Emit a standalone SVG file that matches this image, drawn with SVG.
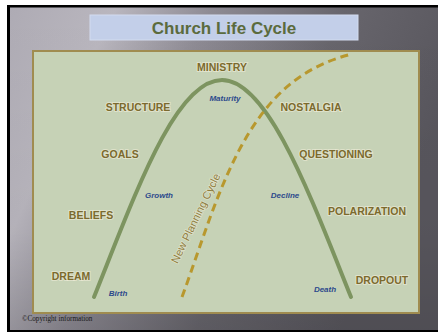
<svg xmlns="http://www.w3.org/2000/svg" width="438" height="333" viewBox="0 0 438 333">
  <defs>
    <linearGradient id="bg" x1="0" y1="0" x2="1" y2="0.35">
      <stop offset="0" stop-color="#aeabb4"/>
      <stop offset="0.22" stop-color="#b9b6be"/>
      <stop offset="0.42" stop-color="#8e8b94"/>
      <stop offset="0.7" stop-color="#67656c"/>
      <stop offset="1" stop-color="#58565d"/>
    </linearGradient>
    <linearGradient id="shade" x1="0" y1="0" x2="0" y2="1">
      <stop offset="0" stop-color="#000" stop-opacity="0"/>
      <stop offset="0.7" stop-color="#000" stop-opacity="0.03"/>
      <stop offset="1" stop-color="#000" stop-opacity="0.1"/>
    </linearGradient>
    <style>
      .lbl { font-family: "Liberation Sans", Arial, sans-serif; font-weight: bold; font-size: 10.5px; fill: #7b6a2e; stroke: #f4f0dc; stroke-width: 2; stroke-opacity: 0.55; paint-order: stroke; text-anchor: middle; }
      .stage { font-family: "Liberation Sans", Arial, sans-serif; font-weight: bold; font-style: italic; font-size: 8px; fill: #2d4a8c; text-anchor: middle; }
    </style>
  </defs>
  <rect x="0" y="0" width="438" height="333" fill="#ffffff"/>
  <rect x="7" y="5" width="431" height="327" fill="#000000"/>
  <rect x="10" y="7.5" width="428" height="322.5" fill="url(#bg)"/>
  <rect x="10" y="7.5" width="428" height="322.5" fill="url(#shade)"/>

  <g id="title">
    <rect x="90" y="15" width="268" height="25" fill="#c3cfe9" stroke="#d3dcef" stroke-width="1"/>
    <text x="224" y="34" font-family="Liberation Sans, Arial, sans-serif" font-weight="bold" font-size="17px" fill="#5b6b3d" text-anchor="middle">Church Life Cycle</text>
  </g>

  <g id="panel">
    <rect x="33" y="51" width="386" height="262" fill="#c6d2b6" stroke="#a08c50" stroke-width="2"/>
  </g>

  <g id="connectors">
    <path id="life-curve" d="M94,297 C135,195 175,80 222,80 C268,80 310,195 351,297" fill="none" stroke="#7d9460" stroke-width="4" stroke-linecap="round"/>
    <path id="planning-curve" d="M182,297 C205,235 225,160 265,110 C290,78 320,62 352,54" fill="none" stroke="#b8982e" stroke-width="3" stroke-dasharray="8,5"/>
  </g>

  <g id="planning-label">
    <text transform="translate(199,220) rotate(-64)" font-family="Liberation Sans, Arial, sans-serif" font-size="11px" fill="#8f7d3e" stroke="#f4f0dc" stroke-width="1.5" stroke-opacity="0.5" paint-order="stroke" text-anchor="middle">New Planning Cycle</text>
  </g>

  <g id="ministry"><text class="lbl" x="222" y="71">MINISTRY</text></g>
  <g id="structure"><text class="lbl" x="138" y="111">STRUCTURE</text></g>
  <g id="goals"><text class="lbl" x="120" y="158">GOALS</text></g>
  <g id="beliefs"><text class="lbl" x="91" y="219">BELIEFS</text></g>
  <g id="dream"><text class="lbl" x="71" y="280">DREAM</text></g>
  <g id="nostalgia"><text class="lbl" x="311" y="111">NOSTALGIA</text></g>
  <g id="questioning"><text class="lbl" x="336" y="158">QUESTIONING</text></g>
  <g id="polarization"><text class="lbl" x="367" y="215">POLARIZATION</text></g>
  <g id="dropout"><text class="lbl" x="382" y="284">DROPOUT</text></g>

  <g id="maturity"><text class="stage" x="225" y="101">Maturity</text></g>
  <g id="growth"><text class="stage" x="159" y="198">Growth</text></g>
  <g id="decline"><text class="stage" x="285" y="198">Decline</text></g>
  <g id="birth"><text class="stage" x="118" y="296">Birth</text></g>
  <g id="death"><text class="stage" x="325" y="292">Death</text></g>

  <g id="copyright">
    <text x="22" y="321" font-family="Liberation Serif, Times New Roman, serif" font-size="7.2px" fill="#1a1a1a">©Copyright information</text>
  </g>
</svg>
